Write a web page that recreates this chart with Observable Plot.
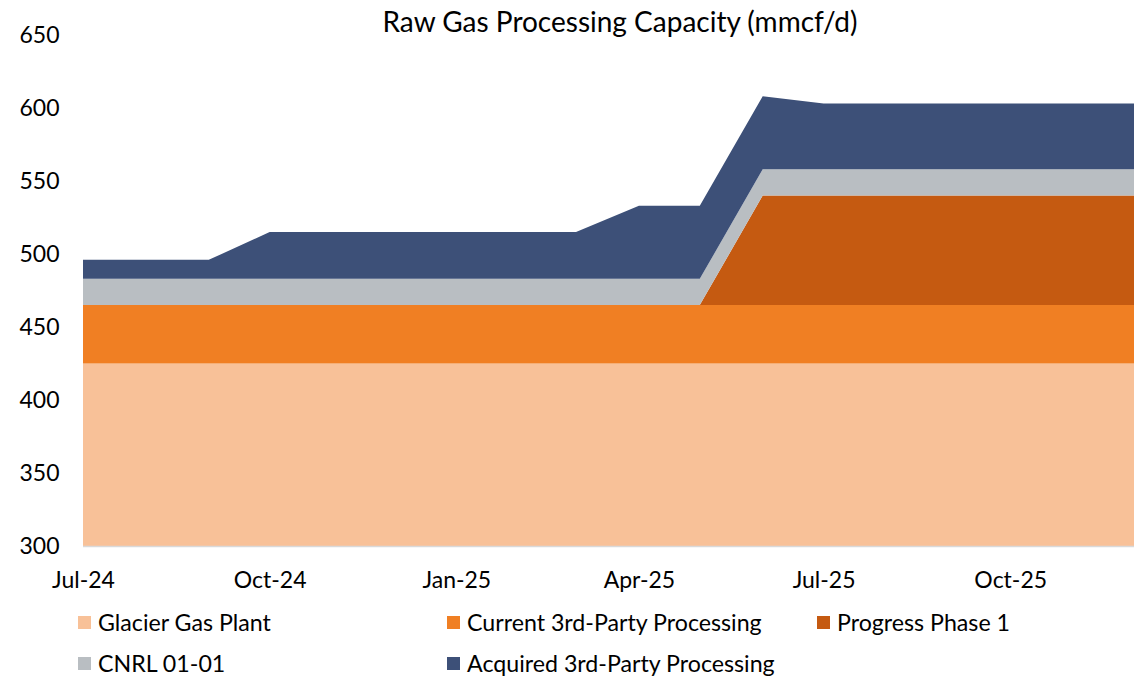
<!DOCTYPE html>
<html>
<head>
<meta charset="utf-8">
<script src="https://cdn.jsdelivr.net/npm/d3@7"></script>
<script src="https://cdn.jsdelivr.net/npm/@observablehq/plot@0.6"></script>
<style>
  html, body { margin: 0; padding: 0; background: #fff; }
  body { width: 1140px; height: 681px; overflow: hidden; font-family: Lato, "Open Sans", sans-serif; color: #000; }
  #wrap { position: relative; width: 1140px; height: 681px; }
  #chart { position: absolute; top: 0; left: 0; }
  #title { position: absolute; top: 4px; left: 0; width: 1240px; text-align: center; font-size: 28px; line-height: 34px; z-index: 2; }
  #legend { position: absolute; left: 78px; top: 608px; display: grid; grid-template-columns: 369px 370px auto; row-gap: 13px; font-size: 23.2px; line-height: 28px; z-index: 2; }
  .item { display: flex; align-items: center; white-space: nowrap; }
  .sw { width: 13px; height: 13px; margin-right: 7px; flex: none; }
</style>
</head>
<body>
<div id="wrap">
  <div id="chart"></div>
  <div id="title"></div>
  <div id="legend"></div>
</div>
<script>
const titleText = "Raw Gas Processing Capacity (mmcf/d)";
const months = ["Jul-24","Aug-24","Sep-24","Oct-24","Nov-24","Dec-24","Jan-25","Feb-25","Mar-25","Apr-25","May-25","Jun-25","Jul-25","Aug-25","Sep-25","Oct-25","Nov-25","Dec-25"];
const seriesNames = ["Glacier Gas Plant","Current 3rd-Party Processing","Progress Phase 1","CNRL 01-01","Acquired 3rd-Party Processing"];
const seriesColors = ["#F8C198","#F07F23","#C55A11","#B9BEC2","#3D5078"];
const glacier  = [425,425,425,425,425,425,425,425,425,425,425,425,425,425,425,425,425,425];
const current  = [40,40,40,40,40,40,40,40,40,40,40,40,40,40,40,40,40,40];
const progress = [0,0,0,0,0,0,0,0,0,0,0,75,75,75,75,75,75,75];
const cnrl     = [18,18,18,18,18,18,18,18,18,18,18,18,18,18,18,18,18,18];
const acquired = [13,13,13,32,32,32,32,32,32,50,50,50,45,45,45,45,45,45];
const xTickLabels = ["Jul-24","Oct-24","Jan-25","Apr-25","Jul-25","Oct-25"];
const yTicks = [300,350,400,450,500,550,600,650];
const legendOrder = ["Glacier Gas Plant","Current 3rd-Party Processing","Progress Phase 1","CNRL 01-01","Acquired 3rd-Party Processing"];

const parse = d3.utcParse("%b-%y");
const fmt = d3.utcFormat("%b-%y");
const seriesValues = [glacier, current, progress, cnrl, acquired];
const data = [];
seriesNames.forEach((s, i) => {
  months.forEach((m, j) => data.push({series: s, date: parse(m), value: seriesValues[i][j]}));
});

document.getElementById("title").textContent = titleText;

const chart = Plot.plot({
  width: 1140,
  height: 600,
  marginTop: 35,
  marginBottom: 54,
  marginLeft: 83,
  marginRight: 6,
  style: { fontFamily: "Lato, 'Open Sans', sans-serif", fontSize: "23px", color: "#000", background: "transparent" },
  x: { type: "utc", domain: [parse(months[0]), parse(months[months.length - 1])], ticks: xTickLabels.map(parse), tickFormat: fmt, tickSize: 0, tickPadding: 25, label: null },
  y: { domain: [300, 650], ticks: yTicks, tickSize: 0, tickPadding: 24, label: null },
  color: { domain: seriesNames, range: seriesColors },
  marks: [
    Plot.areaY(data, Plot.stackY({ order: seriesNames }, { x: "date", y: "value", fill: "series", clip: true })),
    Plot.ruleY([300], { stroke: "#D9D9D9", strokeWidth: 1.5 })
  ]
});
document.getElementById("chart").appendChild(chart);

const legend = d3.select("#legend");
legendOrder.forEach(name => {
  const it = legend.append("div").attr("class", "item");
  it.append("div").attr("class", "sw").style("background", seriesColors[seriesNames.indexOf(name)]);
  it.append("span").text(name);
});
</script>
</body>
</html>
